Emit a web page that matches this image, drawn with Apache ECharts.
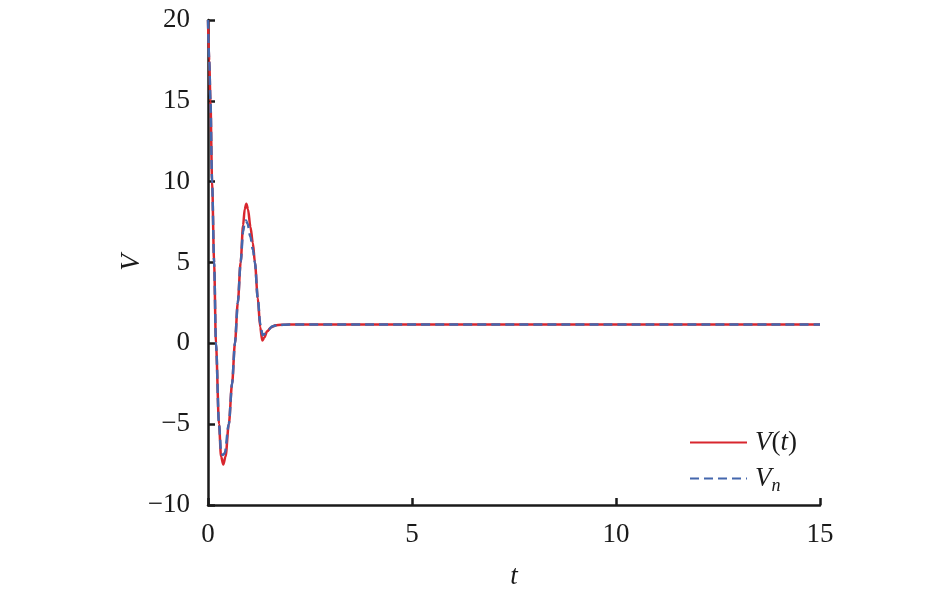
<!DOCTYPE html>
<html>
<head>
<meta charset="utf-8">
<script src="https://cdn.jsdelivr.net/npm/echarts@6/dist/echarts.min.js"></script>
<style>html,body{margin:0;padding:0;background:#fff;}#c{width:945px;height:592px;}</style>
</head>
<body>
<div id="c"></div>
<script>
// V(t) exact solution (t, V)
var redT = [0,0.03,0.06,0.1,0.15,0.195,0.27,0.32,0.375,0.43,0.51,0.59,0.66,0.73,0.8,0.86,0.9,0.94,0.98,1.04,1.1,1.15,1.22,1.28,1.33,1.38,1.45,1.55,1.65,1.8,2.0,15];
var redV = [20,17.5,15,10,5,0,-5,-7,-7.5,-7,-5,-2.5,0,2.5,5,7.3,8.3,8.63,8.3,7.2,6.2,5,2.8,1.0,0.17,0.35,0.75,1.0,1.12,1.15,1.16,1.16];
// V_n numerical solution
var blueT = [0,0.03,0.06,0.1,0.15,0.195,0.27,0.32,0.36,0.41,0.51,0.59,0.66,0.73,0.8,0.86,0.9,0.93,0.97,1.04,1.1,1.15,1.22,1.28,1.34,1.4,1.48,1.58,1.7,2.0,15];
var blueV = [20,17.5,15,10,5,0,-5,-6.7,-6.9,-6.8,-5,-2.5,0,2.5,5,6.9,7.5,7.6,7.4,6.6,5.8,5,2.8,1.2,0.5,0.6,0.85,1.05,1.13,1.16,1.16];
var xTicks = [0,5,10,15];
var yTicks = [-10,-5,0,5,10,15,20];

function pairs(a,b){var r=[];for(var i=0;i<a.length;i++)r.push([a[i],b[i]]);return r;}
var font = '"Liberation Serif","Times New Roman",serif';
var chart = echarts.init(document.getElementById('c'));
chart.setOption({
  animation:false,
  backgroundColor:'#fff',
  grid:{left:208,right:125,top:20,bottom:87,containLabel:false,outerBoundsMode:'none'},
  xAxis:{type:'value',min:0,max:15,interval:5,
    name:'t',nameLocation:'middle',nameGap:58,nameMoveOverlap:false,
    nameTextStyle:{fontFamily:font,fontStyle:'italic',fontSize:27,color:'#1a1a1a'},
    axisLine:{onZero:false,lineStyle:{color:'#1a1a1a',width:2.5}},
    axisTick:{inside:true,length:7,lineStyle:{color:'#1a1a1a',width:2.5}},
    axisLabel:{fontFamily:font,fontSize:27,color:'#1a1a1a',margin:16},
    splitLine:{show:false}},
  yAxis:{type:'value',min:-10,max:20,interval:5,
    name:'V',nameLocation:'middle',nameGap:63,nameRotate:90,nameMoveOverlap:false,
    nameTextStyle:{fontFamily:font,fontStyle:'italic',fontSize:27,color:'#1a1a1a'},
    axisLine:{onZero:false,lineStyle:{color:'#1a1a1a',width:2.5}},
    axisTick:{inside:true,length:7,lineStyle:{color:'#1a1a1a',width:2.5}},
    axisLabel:{fontFamily:font,fontSize:27,color:'#1a1a1a',margin:18,
      formatter:function(v){return String(v).replace('-','\u2212');}},
    splitLine:{show:false}},
  legend:{orient:'vertical',left:689,top:429,padding:0,itemWidth:57,itemHeight:20,itemGap:9,
    data:['V(t)','Vn'],
    itemStyle:{opacity:0},
    formatter:function(n){return n==='Vn'?'{i|V}{s|n}':'{i|V}{u|(}{i|t}{u|)}';},
    textStyle:{fontFamily:font,fontSize:27,color:'#1a1a1a',padding:[0,0,0,3],
      rich:{i:{fontFamily:font,fontStyle:'italic',fontSize:27,color:'#1a1a1a'},
            u:{fontFamily:font,fontSize:27,color:'#1a1a1a'},
            s:{fontFamily:font,fontStyle:'italic',fontSize:18,color:'#1a1a1a',padding:[16,0,0,0]}}}},
  series:[
    {name:'V(t)',type:'line',data:pairs(redT,redV),showSymbol:false,symbol:'none',
     smooth:0.3,smoothMonotone:'x',lineStyle:{color:'#d8262e',width:2.5},itemStyle:{color:'#d8262e'}},
    {name:'Vn',type:'line',data:pairs(blueT,blueV),showSymbol:false,symbol:'none',
     smooth:0.3,smoothMonotone:'x',lineStyle:{color:'#4467ad',width:2.5,type:[9,5]},itemStyle:{color:'#4467ad'}}
  ]
});
</script>
</body>
</html>
